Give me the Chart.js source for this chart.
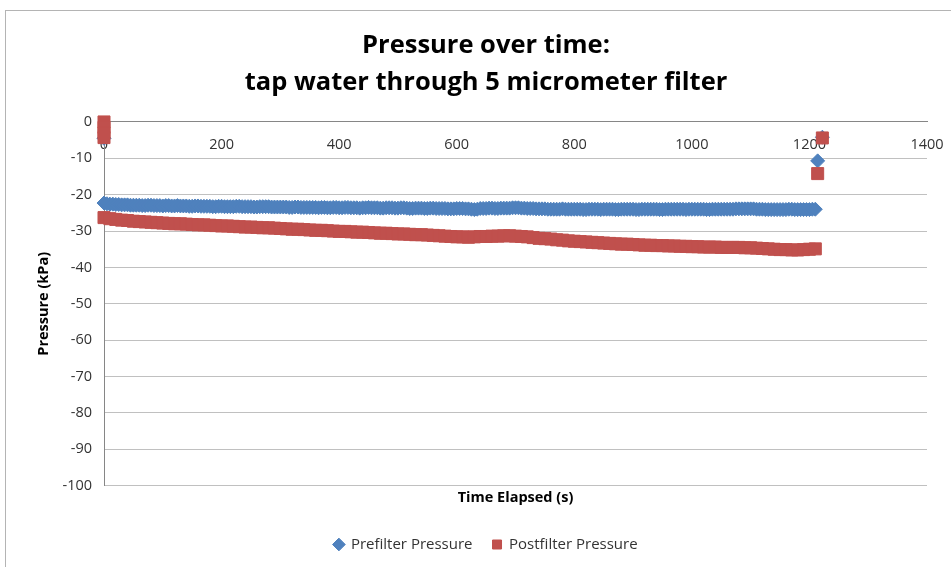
<!DOCTYPE html>
<html>
<head>
<meta charset="utf-8">
<title>Pressure over time</title>
<script src="https://cdn.jsdelivr.net/npm/chart.js@4.4.1/dist/chart.umd.min.js"></script>
<style>
  body { margin: 0; background: #fff; }
  #wrap { position: relative; width: 951px; height: 567px; overflow: hidden; }
  #frame { position: absolute; left: 5px; top: 10px; right: -2px; bottom: -2px;
           border-left: 1px solid #b4b4b4; border-top: 1px solid #b4b4b4; }
  #myChart { position: absolute; left: 0; top: 0; }
</style>
</head>
<body>
<div id="wrap">
  <div id="frame"></div>
  <canvas id="myChart" width="951" height="567"></canvas>
</div>
<script>
// prefilter readings, every 5 s (s)
const preTime = [
  0, 5, 10, 15, 20, 25, 30, 35, 40, 45, 50, 55, 60, 65, 70, 75, 80, 85, 90, 95,
  100, 105, 110, 115, 120, 125, 130, 135, 140, 145, 150, 155, 160, 165, 170, 175, 180, 185, 190, 195,
  200, 205, 210, 215, 220, 225, 230, 235, 240, 245, 250, 255, 260, 265, 270, 275, 280, 285, 290, 295,
  300, 305, 310, 315, 320, 325, 330, 335, 340, 345, 350, 355, 360, 365, 370, 375, 380, 385, 390, 395,
  400, 405, 410, 415, 420, 425, 430, 435, 440, 445, 450, 455, 460, 465, 470, 475, 480, 485, 490, 495,
  500, 505, 510, 515, 520, 525, 530, 535, 540, 545, 550, 555, 560, 565, 570, 575, 580, 585, 590, 595,
  600, 605, 610, 615, 620, 625, 630, 635, 640, 645, 650, 655, 660, 665, 670, 675, 680, 685, 690, 695,
  700, 705, 710, 715, 720, 725, 730, 735, 740, 745, 750, 755, 760, 765, 770, 775, 780, 785, 790, 795,
  800, 805, 810, 815, 820, 825, 830, 835, 840, 845, 850, 855, 860, 865, 870, 875, 880, 885, 890, 895,
  900, 905, 910, 915, 920, 925, 930, 935, 940, 945, 950, 955, 960, 965, 970, 975, 980, 985, 990, 995,
  1000, 1005, 1010, 1015, 1020, 1025, 1030, 1035, 1040, 1045, 1050, 1055, 1060, 1065, 1070, 1075, 1080, 1085, 1090, 1095,
  1100, 1105, 1110, 1115, 1120, 1125, 1130, 1135, 1140, 1145, 1150, 1155, 1160, 1165, 1170, 1175, 1180, 1185, 1190, 1195,
  1200, 1205, 1210
]

// prefilter pressure (kPa)
const prePressure = [
  -22.3, -22.5, -22.6, -22.6, -22.7, -22.7, -22.8, -22.8, -22.8, -22.9, -22.9, -22.9, -22.9, -23.0, -23.0, -22.9, -22.9, -23.0, -23.0, -23.0,
  -23.1, -23.0, -23.0, -23.1, -23.1, -23.0, -23.1, -23.1, -23.1, -23.2, -23.2, -23.1, -23.1, -23.2, -23.2, -23.2, -23.2, -23.3, -23.3, -23.2,
  -23.2, -23.3, -23.3, -23.3, -23.3, -23.2, -23.2, -23.3, -23.3, -23.3, -23.3, -23.4, -23.4, -23.3, -23.3, -23.3, -23.3, -23.4, -23.4, -23.4,
  -23.4, -23.4, -23.4, -23.5, -23.5, -23.4, -23.4, -23.5, -23.5, -23.5, -23.5, -23.5, -23.5, -23.6, -23.5, -23.5, -23.6, -23.6, -23.5, -23.5,
  -23.6, -23.6, -23.5, -23.5, -23.6, -23.6, -23.6, -23.7, -23.6, -23.6, -23.5, -23.6, -23.6, -23.6, -23.7, -23.7, -23.6, -23.6, -23.6, -23.7,
  -23.7, -23.6, -23.6, -23.7, -23.8, -23.8, -23.7, -23.7, -23.7, -23.8, -23.8, -23.7, -23.7, -23.8, -23.8, -23.8, -23.8, -23.9, -23.9, -23.9,
  -23.8, -23.8, -23.8, -23.9, -23.9, -24.0, -24.1, -24.0, -23.8, -23.8, -23.8, -23.7, -23.7, -23.8, -23.8, -23.7, -23.7, -23.7, -23.7, -23.6,
  -23.6, -23.6, -23.7, -23.7, -23.8, -23.8, -23.8, -23.9, -23.9, -23.9, -23.9, -24.0, -24.0, -24.0, -24.0, -24.0, -23.9, -24.0, -24.0, -24.0,
  -24.0, -24.0, -24.0, -24.1, -24.1, -24.0, -24.0, -24.0, -24.0, -24.1, -24.0, -24.0, -24.0, -24.0, -24.1, -24.1, -24.0, -24.0, -24.0, -24.0,
  -24.0, -24.1, -24.1, -24.0, -24.0, -24.0, -24.0, -24.0, -24.0, -24.1, -24.1, -24.0, -24.0, -24.0, -24.0, -24.0, -24.0, -24.0, -24.1, -24.0,
  -24.0, -24.0, -24.0, -24.0, -24.0, -24.1, -24.1, -24.0, -24.0, -24.0, -24.0, -24.0, -24.0, -24.0, -24.0, -23.9, -23.9, -23.9, -23.9, -23.9,
  -23.9, -23.9, -24.0, -24.0, -24.0, -24.1, -24.1, -24.1, -24.1, -24.1, -24.1, -24.1, -24.1, -24.0, -24.0, -24.1, -24.1, -24.1, -24.1, -24.1,
  -24.1, -24.0, -24.0
]

// postfilter readings, every 10 s (s)
const postTime = [
  0, 10, 20, 30, 40, 50, 60, 70, 80, 90,
  100, 110, 120, 130, 140, 150, 160, 170, 180, 190,
  200, 210, 220, 230, 240, 250, 260, 270, 280, 290,
  300, 310, 320, 330, 340, 350, 360, 370, 380, 390,
  400, 410, 420, 430, 440, 450, 460, 470, 480, 490,
  500, 510, 520, 530, 540, 550, 560, 570, 580, 590,
  600, 610, 620, 630, 640, 650, 660, 670, 680, 690,
  700, 710, 720, 730, 740, 750, 760, 770, 780, 790,
  800, 810, 820, 830, 840, 850, 860, 870, 880, 890,
  900, 910, 920, 930, 940, 950, 960, 970, 980, 990,
  1000, 1010, 1020, 1030, 1040, 1050, 1060, 1070, 1080, 1090,
  1100, 1110, 1120, 1130, 1140, 1150, 1160, 1170, 1180, 1190,
  1200, 1210
]

// postfilter pressure (kPa)
const postPressure = [
  -26.3, -26.6, -26.8, -27.0, -27.1, -27.3, -27.4, -27.5, -27.6, -27.7,
  -27.8, -27.9, -28.0, -28.0, -28.1, -28.2, -28.3, -28.3, -28.4, -28.5,
  -28.6, -28.6, -28.7, -28.8, -28.9, -28.9, -29.0, -29.1, -29.1, -29.2,
  -29.3, -29.4, -29.5, -29.5, -29.6, -29.7, -29.8, -29.8, -29.9, -30.0,
  -30.1, -30.1, -30.2, -30.3, -30.3, -30.4, -30.5, -30.6, -30.6, -30.7,
  -30.8, -30.8, -30.9, -31.0, -31.0, -31.1, -31.2, -31.3, -31.4, -31.5,
  -31.6, -31.6, -31.7, -31.6, -31.5, -31.5, -31.4, -31.4, -31.3, -31.3,
  -31.4, -31.5, -31.6, -31.8, -32.0, -32.1, -32.2, -32.4, -32.5, -32.7,
  -32.8, -32.9, -33.0, -33.1, -33.2, -33.3, -33.4, -33.5, -33.6, -33.6,
  -33.7, -33.8, -33.9, -33.9, -34.0, -34.0, -34.1, -34.1, -34.2, -34.2,
  -34.3, -34.3, -34.4, -34.4, -34.4, -34.5, -34.5, -34.5, -34.5, -34.6,
  -34.6, -34.7, -34.8, -34.9, -35.0, -35.1, -35.1, -35.2, -35.2, -35.1,
  -35.0, -34.9
]

// readings before the pump started and after it stopped
const preExtraTime = [0, 1214, 1222]
const preExtraPressure = [-4.5, -10.7, -4.2]
const postExtraTime = [0, 0, 0, 0, 1214, 1222]
const postExtraPressure = [0, -1.5, -3.0, -4.3, -14.2, -4.4]

const xTicks = [0, 200, 400, 600, 800, 1000, 1200, 1400]

document.addEventListener('DOMContentLoaded', function () {
  drawChart()
})

function toPoints(xs, ys) {
  const pts = []
  for (let i = 0; i < xs.length; i++) {
    pts.push({ x: xs[i], y: ys[i] })
  }
  return pts
}

function drawChart() {
  const FONT = "'Open Sans', 'Liberation Sans', sans-serif"

  const prePoints = toPoints(preTime, prePressure).concat(toPoints(preExtraTime, preExtraPressure))
  const postPoints = toPoints(postTime, postPressure).concat(toPoints(postExtraTime, postExtraPressure))

  const ctx = document.getElementById('myChart')

  const data = {
    datasets: [{
      label: 'Prefilter Pressure',
      data: prePoints,
      pointStyle: 'rectRot',
      pointRadius: 7,
      backgroundColor: '#4f81bd',
      borderColor: '#4f81bd',
      borderWidth: 1,
      showLine: false,
      clip: false,
      order: 2
    }, {
      label: 'Postfilter Pressure',
      data: postPoints,
      pointStyle: 'rect',
      pointRadius: 8.5,
      backgroundColor: '#c0504d',
      borderColor: '#c0504d',
      borderWidth: 1,
      showLine: false,
      clip: false,
      order: 1
    }]
  }

  const config = {
    type: 'scatter',
    data: data,
    options: {
      responsive: false,
      animation: false,
      layout: { padding: { left: 45, right: 24, top: 0, bottom: 5 } },
      plugins: {
        tooltip: { enabled: false },
        title: {
          display: true,
          text: ['Pressure over time:', 'tap water through 5 micrometer filter'],
          color: '#000',
          font: { family: FONT, size: 25.5, weight: 'bold', lineHeight: 1.45 },
          padding: { top: 27, bottom: 21 }
        },
        legend: {
          position: 'bottom',
          labels: {
            usePointStyle: true,
            boxWidth: 9,
            boxHeight: 9,
            padding: 20,
            color: '#333',
            font: { family: FONT, size: 15 },
            sort: function (a, b) { return a.datasetIndex - b.datasetIndex }
          }
        }
      },
      scales: {
        x: {
          type: 'linear',
          position: { y: 0 },
          min: 0,
          max: 1400,
          afterBuildTicks: function (scale) {
            scale.ticks = xTicks.map(function (v) { return { value: v } })
          },
          afterFit: function (scale) {
            // let the 1400 label hang past the plot like Excel does
            scale.paddingLeft = 0
            scale.paddingRight = 0
          },
          grid: { display: false, drawTicks: false },
          border: { display: true, color: '#868686', width: 1 },
          ticks: {
            padding: 14,
            color: '#333',
            font: { family: FONT, size: 14.5 },
            callback: function (v) { return String(v) }
          }
        },
        x2: {
          type: 'linear',
          position: 'bottom',
          min: 0,
          max: 1400,
          grid: { display: false, drawTicks: false },
          border: { display: false },
          ticks: { display: false },
          title: {
            display: true,
            text: 'Time Elapsed (s)',
            color: '#000',
            font: { family: FONT, size: 14.5, weight: 'bold' },
            padding: { top: 4, bottom: 10 }
          }
        },
        y: {
          type: 'linear',
          min: -100,
          max: 0,
          afterFit: function (scale) { scale.width = 59 },
          ticks: {
            stepSize: 10,
            padding: 12,
            color: '#333',
            font: { family: FONT, size: 14.5 },
            callback: function (v) { return String(v) }
          },
          grid: { color: '#c0c0c0', drawTicks: false },
          border: { display: true, color: '#868686', width: 1 },
          title: {
            display: true,
            text: 'Pressure (kPa)',
            color: '#000',
            font: { family: FONT, size: 14.5, weight: 'bold' },
            padding: { top: -10, bottom: 0 }
          }
        }
      }
    }
  }

  const myChart = new Chart(ctx, config)
}
</script>
</body>
</html>
